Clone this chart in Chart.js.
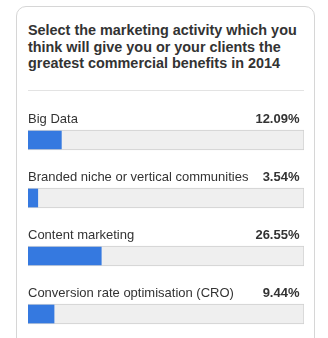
<!DOCTYPE html>
<html>
<head>
<meta charset="utf-8">
<script src="https://cdn.jsdelivr.net/npm/chart.js@4/dist/chart.umd.min.js"></script>
<style>
  html, body { margin: 0; padding: 0; background: #fff; overflow: hidden; }
  .card {
    position: absolute; left: 16px; top: 6px; width: 299px; height: 400px;
    border: 1px solid #d6d6d6; border-radius: 10px; box-sizing: border-box;
  }
  .title {
    position: absolute; left: 28px; top: 22px; width: 285px;
    font: bold 14.4px "Liberation Sans", Arial, sans-serif; line-height: 16.7px;
    color: #333;
  }
  .rule { position: absolute; left: 28px; top: 90px; width: 276px; height: 1px; background: #e3e3e3; }
  .wrap { position: absolute; left: 16px; top: 95px; width: 300px; height: 250px; }
</style>
</head>
<body>
<div class="card"></div>
<div class="title">Select the marketing activity which you think will give you or your clients the greatest commercial benefits in 2014</div>
<div class="rule"></div>
<div class="wrap"><canvas id="poll"></canvas></div>
<script>
const activities = [
  'Big Data',
  'Branded niche or vertical communities',
  'Content marketing',
  'Conversion rate optimisation (CRO)'
];
const shares = [12.09, 3.54, 26.55, 9.44];
const fullTrack = [100, 100, 100, 100];

// writes the answer text and its percentage above each bar
const rowLabels = {
  id: 'rowLabels',
  afterDatasetsDraw(chart) {
    const { ctx, scales: { x, y } } = chart;
    ctx.save();
    ctx.fillStyle = '#333';
    ctx.textBaseline = 'alphabetic';
    activities.forEach((name, i) => {
      const top = y.getPixelForValue(i) - 9;
      ctx.font = '13px "Liberation Sans", Arial, sans-serif';
      ctx.textAlign = 'left';
      ctx.fillText(name, x.left, top - 8.5);
      ctx.font = 'bold 13px "Liberation Sans", Arial, sans-serif';
      ctx.textAlign = 'right';
      ctx.fillText(shares[i].toFixed(2) + '%', x.right - 4.5, top - 8.5);
    });
    ctx.restore();
  }
};

new Chart(document.getElementById('poll'), {
  type: 'bar',
  data: {
    labels: activities,
    datasets: [
      {
        data: shares,
        backgroundColor: '#3579e0',
        barThickness: 18,
        order: 1
      },
      {
        data: fullTrack,
        backgroundColor: '#efefef',
        borderColor: '#cfcfcf',
        borderWidth: 1,
        borderSkipped: false,
        barThickness: 20,
        order: 2
      }
    ]
  },
  options: {
    indexAxis: 'y',
    responsive: true,
    maintainAspectRatio: false,
    animation: false,
    grouped: false,
    layout: { padding: { left: 12, right: 12, top: 16, bottom: 2 } },
    scales: {
      x: { min: 0, max: 100, display: false },
      y: { display: false }
    },
    plugins: {
      legend: { display: false },
      tooltip: { enabled: false }
    }
  },
  plugins: [rowLabels]
});
</script>
</body>
</html>
